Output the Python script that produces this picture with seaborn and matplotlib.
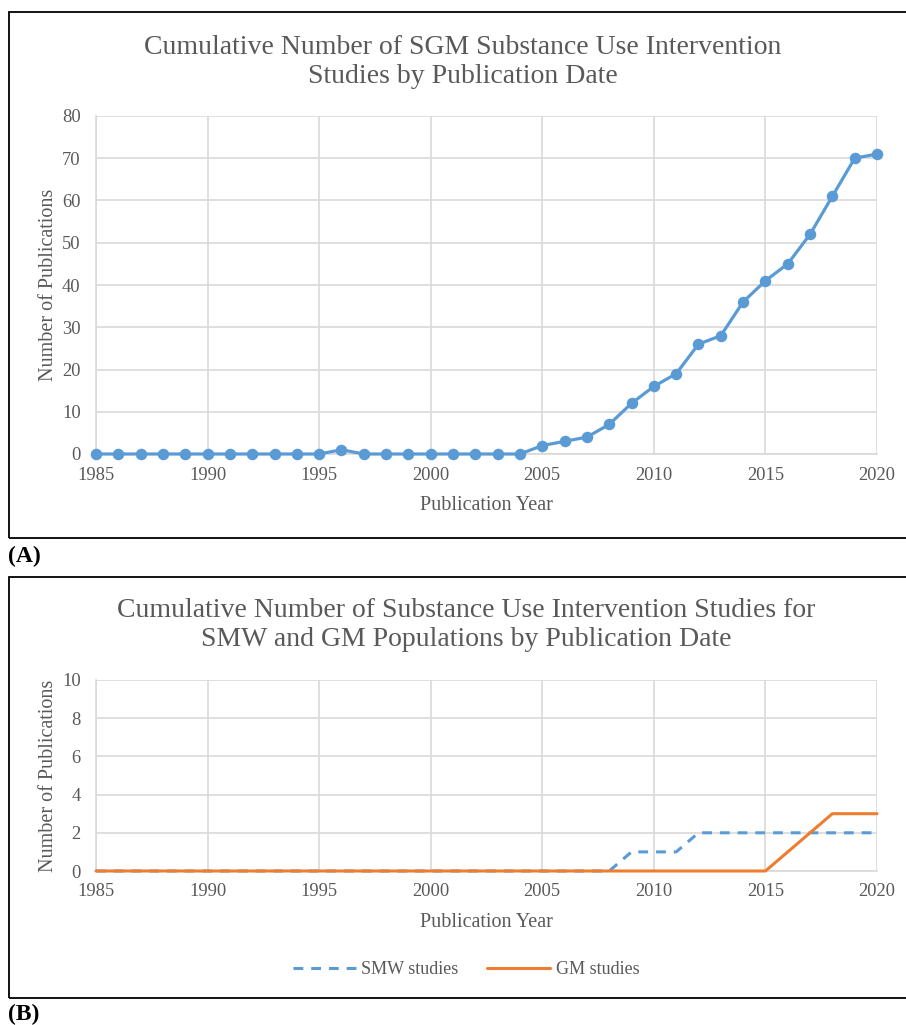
import matplotlib
matplotlib.use("Agg")
import matplotlib.pyplot as plt
import seaborn as sns
import pandas as pd
from matplotlib.patches import Rectangle

years = list(range(1985, 2021))
sgm_total = [0, 0, 0, 0, 0, 0, 0, 0, 0, 0, 0, 1, 0, 0, 0, 0, 0, 0, 0, 0,
             2, 3, 4, 7, 12, 16, 19, 26, 28, 36, 41, 45, 52, 61, 70, 71]
smw_studies = [0] * 24 + [1, 1, 1] + [2] * 9
gm_studies = [0] * 31 + [1, 2, 3, 3, 3]

title_a = "Cumulative Number of SGM Substance Use Intervention\nStudies by Publication Date"
title_b = "Cumulative Number of Substance Use Intervention Studies for\nSMW and GM Populations by Publication Date"
x_ticks = [1985, 1990, 1995, 2000, 2005, 2010, 2015, 2020]
y_ticks_a = [0, 10, 20, 30, 40, 50, 60, 70, 80]
y_ticks_b = [0, 2, 4, 6, 8, 10]

sns.set_theme(style="white")
plt.rcParams['font.family'] = ['Liberation Serif', 'DejaVu Serif']

BLUE = "#5B9BD5"
ORANGE = "#ED7D31"
GRID = "#D9D9D9"
TXT = "#595959"

fig = plt.figure(figsize=(9.06, 10.25), dpi=100)
W, H = 906, 1025

def fx(px):
    return px / W

def fy(py):
    return 1 - py / H

# outer boxes
for top, bot in [(12, 538), (577, 998)]:
    fig.patches.append(Rectangle((fx(9), fy(bot)), 1.05 - fx(9), fy(top) - fy(bot),
                                 transform=fig.transFigure, fill=False,
                                 edgecolor="black", linewidth=1.3, zorder=0))

fig.text(fx(8), fy(556), "(A)", fontsize=17, fontweight="bold", va="center", ha="left", color="black")
fig.text(fx(8), fy(1014), "(B)", fontsize=17, fontweight="bold", va="center", ha="left", color="black")

def style_axes(ax, yt, ymax):
    ax.set_xlim(1985, 2020)
    ax.set_ylim(0, ymax)
    ax.set_xticks(x_ticks)
    ax.set_yticks(yt)
    ax.grid(True, color=GRID, linewidth=1.2)
    for s in ["top", "right"]:
        ax.spines[s].set_visible(False)
    for s in ["left", "bottom"]:
        ax.spines[s].set_color(GRID)
        ax.spines[s].set_linewidth(1.2)
    ax.tick_params(axis="y", labelsize=13.3, colors=TXT, length=0, pad=11)
    ax.tick_params(axis="x", labelsize=13.3, colors=TXT, length=0, pad=9)
    ax.set_xlabel("Publication Year", fontsize=14.5, color=TXT, labelpad=9)
    ax.set_ylabel("Number of Publications", fontsize=14.5, color=TXT)
    ax.yaxis.set_label_coords((58 - 96) / 781, 0.5)
    ax.set_axisbelow(True)

# Panel A
axA = fig.add_axes([fx(96), fy(454), fx(877) - fx(96), fy(116) - fy(454)])
dfA = pd.DataFrame({"year": years, "count": sgm_total})
sns.lineplot(data=dfA, x="year", y="count", ax=axA, color=BLUE, linewidth=2.3,
             marker="o", markersize=8.3, markeredgewidth=0, clip_on=False, zorder=3)
style_axes(axA, y_ticks_a, 80)
fig.text(fx(463), fy(62), title_a, fontsize=20, color=TXT, ha="center", va="center", linespacing=1.2)

# Panel B
axB = fig.add_axes([fx(96), fy(871), fx(877) - fx(96), fy(680) - fy(871)])
dfB = pd.DataFrame({"year": years, "smw": smw_studies, "gm": gm_studies})
sns.lineplot(data=dfB, x="year", y="smw", ax=axB, color=BLUE, linewidth=2.2,
             linestyle=(0, (3.2, 2.6)), label="SMW studies", clip_on=False, zorder=3)
sns.lineplot(data=dfB, x="year", y="gm", ax=axB, color=ORANGE, linewidth=2.2,
             label="GM studies", clip_on=False, zorder=4)
style_axes(axB, y_ticks_b, 10)
fig.text(fx(466), fy(625), title_b, fontsize=20, color=TXT, ha="center", va="center", linespacing=1.2)

handles, labels = axB.get_legend_handles_labels()
axB.get_legend().remove()
leg = fig.legend(handles, labels, loc="center", bbox_to_anchor=(fx(466), fy(970)), ncol=2,
                 frameon=False, fontsize=13, handlelength=3.5, handletextpad=0.3, columnspacing=1.6)
for t in leg.get_texts():
    t.set_color(TXT)

fig.savefig("out.png", dpi=100)
